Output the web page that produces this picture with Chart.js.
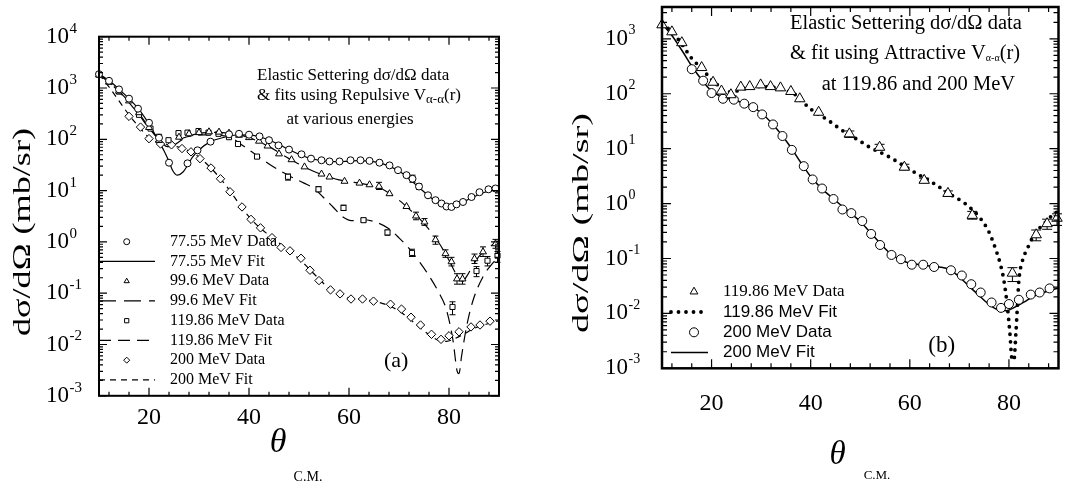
<!DOCTYPE html>
<html>
<head>
<meta charset="utf-8">
<script src="https://cdn.jsdelivr.net/npm/chart.js@4.4.0/dist/chart.umd.min.js"></script>
<style>
  html, body { margin: 0; padding: 0; background: #fff; }
  #wrap { position: relative; width: 1071px; height: 483px; overflow: hidden; }
  #wrap canvas { position: absolute; top: 0; }
</style>
</head>
<body>
<div id="wrap">
  <canvas id="chartA" width="540" height="483" style="left:0"></canvas>
  <canvas id="chartB" width="531" height="483" style="left:540px"></canvas>
</div>
<script>
const SERIF = '"Liberation Serif", "Times New Roman", serif';
const SANS = '"Liberation Sans", Arial, sans-serif';

// tick values
const xTickVals = [20, 40, 60, 80];
const yTickValsA = [1e-3, 1e-2, 1e-1, 1, 10, 100, 1000, 10000];
const yTickValsB = [1e-3, 1e-2, 1e-1, 1, 10, 100, 1000];

// measured data, shared by both panels
const ang119 = [10, 12, 14, 18, 20.3, 22, 23.9, 25.9, 27.7, 29.9, 31.9, 33.9, 36, 37.8, 41.6, 47.8, 53.9, 58.9, 62.9, 67.7, 72.6, 80.7, 85.5, 87.7, 89.7];
const val119 = [1800, 1340, 850, 300, 162, 112, 96, 132, 135, 145, 135, 128, 110, 81, 46, 18.6, 10.6, 4.6, 2.65, 1.53, 0.61, 0.054, 0.27, 0.43, 0.54];
const err119 = [[47.8, 16, 21], [53.9, 9.5, 12], [58.9, 4.1, 5.2], [62.9, 2.45, 2.9], [67.7, 1.35, 1.7], [72.6, 0.52, 0.72], [80.7, 0.038, 0.068], [85.5, 0.21, 0.33], [87.7, 0.34, 0.52], [89.7, 0.4, 0.65]];

const ang200 = [16, 18.3, 20, 22.3, 24.5, 26.6, 28.4, 30.2, 32.4, 34.3, 36.2, 38.6, 40.4, 42.3, 44.6, 46.4, 48.2, 50.4, 52.2, 54, 56.3, 58.2, 60.4, 62.7, 64.9, 68.3, 70.5, 72.4, 74.3, 76.5, 78.4, 80, 82, 84.4, 86.2, 88.2];
const val200 = [280, 173, 103, 81, 78, 66, 57, 42, 27.6, 17, 9.5, 4.8, 2.75, 1.88, 1.21, 0.78, 0.67, 0.48, 0.28, 0.176, 0.116, 0.097, 0.077, 0.077, 0.07, 0.061, 0.049, 0.034, 0.024, 0.0158, 0.0126, 0.0148, 0.0177, 0.022, 0.024, 0.0285];

// panel (a) data
const ang77 = [10, 12, 14, 16, 17.8, 20, 22, 24, 27.7, 29.7, 32.3, 36, 38, 40, 42.1, 44, 45.9, 48, 50.5, 52.4, 54.5, 56.1, 58.1, 60.3, 62.3, 64.1, 66.1, 68.1, 69.8, 71.5, 72.7, 74, 75.8, 77.3, 78.5, 79.5, 80.5, 81.5, 82.8, 84.5, 86.1, 87.9, 89.3];
const val77 = [1860, 1380, 940, 620, 395, 210, 107, 35, 34, 61, 90, 125, 128, 123, 114, 96, 76, 63, 51, 42, 39, 37, 37, 39, 39, 38, 35, 31, 25, 20, 17, 12, 8.1, 6.5, 5.6, 4.9, 4.8, 5.4, 6.0, 7.5, 9.3, 10.6, 11];
const err77 = [[72.7, 14.5, 20], [74, 10.5, 13.5]];

const ang99 = [10, 12, 14, 16, 18, 20, 22, 26, 28, 30, 32, 34, 36, 38, 40, 42, 43.7, 46, 48.5, 51.1, 54.5, 56.1, 59.1, 62.1, 64.1, 66, 68.1, 71.5, 73.4, 75.1, 77.3, 79.3, 80.5, 81.6, 82.7, 85.1, 86.8, 89.3];
const val99 = [1800, 1300, 870, 560, 330, 170, 95, 110, 128, 135, 140, 138, 132, 120, 108, 92, 74, 52, 40, 29, 21, 18.4, 15.2, 14, 13, 12.1, 8.7, 4.9, 3.2, 2.44, 1.1, 0.59, 0.41, 0.19, 0.19, 0.47, 0.64, 0.92];
const err99 = [[66, 10.5, 14.5], [73.4, 2.7, 3.8], [75.1, 2.1, 2.85], [77.3, 0.9, 1.3], [79.3, 0.5, 0.7], [80.5, 0.34, 0.5], [81.6, 0.15, 0.24], [82.7, 0.15, 0.24], [85.1, 0.38, 0.58], [86.8, 0.52, 0.8], [89.3, 0.75, 1.12]];

// panel (a) fits, repulsive potential
const fitAng77a = [10, 12, 14, 16, 18, 20, 21, 22, 23, 24, 24.7, 25.7, 26.8, 27.7, 28.7, 30, 32.3, 34.7, 37, 40, 42, 44, 46, 48, 50, 52, 54, 56, 58, 60, 62, 64, 66, 68, 70, 72, 74, 76, 78, 79.5, 81, 83, 85, 87, 89, 90];
const fitVal77a = [1900, 1400, 950, 620, 380, 200, 135, 90, 60, 37, 25, 20, 23, 31, 45, 62, 90, 107, 120, 122, 113, 97, 79, 63, 51, 43, 39, 37, 36.5, 37.5, 38.5, 37.5, 35, 30, 24, 17, 11.5, 7.8, 5.6, 4.9, 5.0, 6.1, 7.6, 9.2, 10.6, 11.2];

const fitAng99a = [10, 12, 14, 16, 18, 20, 22, 23, 24, 25, 26, 28, 30, 32, 34, 36, 38, 40, 42, 44, 46, 48, 50, 52, 54, 56, 58, 60, 62, 64, 66, 68, 70, 72, 74, 76, 78, 80, 81, 82, 82.7, 83.5, 84.5, 86, 88, 90];
const fitVal99a = [1850, 1300, 860, 540, 320, 170, 98, 78, 72, 76, 90, 115, 130, 136, 136, 131, 122, 108, 90, 72, 55, 42, 33, 26, 21.5, 18.5, 16.2, 15, 14, 13, 11.5, 9, 6.5, 4.4, 2.9, 1.75, 0.95, 0.44, 0.28, 0.19, 0.17, 0.21, 0.31, 0.52, 0.78, 1.08];

const fitAng119a = [10, 12, 14, 16, 18, 20, 22, 23.7, 25, 27, 29, 31, 33, 35, 36.5, 38, 40, 42, 44, 46, 48, 51, 53, 54.8, 56.8, 58.8, 60.5, 62.8, 65.5, 68, 70, 72, 74, 75.5, 77.8, 79.5, 80.8, 81.6, 82, 82.5, 83.5, 84.8, 86.8, 88.5, 90];
const fitVal119a = [1800, 1300, 850, 520, 300, 165, 100, 72, 85, 107, 118, 122, 122, 117, 108, 85, 62, 45, 33, 25, 19.5, 14, 11, 7.5, 4.8, 3.05, 2.6, 2.7, 2.4, 1.8, 1.2, 0.75, 0.42, 0.26, 0.11, 0.047, 0.012, 0.0031, 0.0027, 0.0058, 0.022, 0.072, 0.21, 0.36, 0.52];

const fitAng200a = [10, 12, 14, 16, 18, 20, 22, 24, 26, 28, 30, 32, 34, 36, 38, 40, 42, 44, 46, 48, 50, 52, 54, 56, 58, 60, 62, 64, 66, 68, 70, 72, 74, 76, 78, 79.5, 81, 83, 85, 87, 89, 90];
const fitVal200a = [1850, 1050, 560, 300, 175, 108, 86, 78, 70, 59, 45, 30, 18.5, 10.5, 5.6, 3.1, 1.95, 1.35, 0.95, 0.68, 0.47, 0.3, 0.19, 0.125, 0.095, 0.082, 0.077, 0.073, 0.066, 0.057, 0.045, 0.032, 0.022, 0.0155, 0.012, 0.0115, 0.0128, 0.016, 0.0205, 0.024, 0.0275, 0.029];

// panel (b) fits, attractive potential
const fitAng119b = [10, 12, 14, 16, 18, 20, 21, 23, 25, 27, 29, 31, 33, 35, 37, 37.8, 40.1, 43.5, 46.2, 49.8, 52, 55.2, 57.9, 61.2, 64.6, 68, 71.3, 74.3, 76, 77.3, 78.3, 79, 79.7, 80.2, 80.6, 81, 81.4, 81.7, 82, 82.7, 83.7, 85.1, 87.4, 89, 90];
const fitVal119b = [1850, 1350, 800, 440, 290, 180, 150, 108, 112, 128, 135, 134, 128, 115, 95, 80, 52, 33, 22, 14, 10.5, 7.6, 5.5, 3.6, 2.4, 1.5, 0.98, 0.53, 0.3, 0.15, 0.077, 0.039, 0.013, 0.0043, 0.0015, 0.0014, 0.0043, 0.013, 0.039, 0.089, 0.15, 0.27, 0.46, 0.64, 0.72];

const fitAng200b = [10, 12, 14, 16, 18, 20, 22, 24, 26, 28, 30, 32, 34, 36, 38, 40, 42, 44, 46, 48, 50, 52, 54, 56, 58, 60, 62, 64, 66, 68, 70, 72, 74, 76, 78, 79.5, 81, 83, 85, 87, 89, 90];
const fitVal200b = [1900, 1150, 620, 320, 180, 112, 88, 79, 70, 59, 45, 30, 18.5, 10.5, 5.6, 3.1, 1.95, 1.35, 0.95, 0.68, 0.47, 0.3, 0.19, 0.125, 0.095, 0.082, 0.077, 0.073, 0.07, 0.063, 0.046, 0.031, 0.021, 0.0145, 0.0115, 0.0112, 0.0127, 0.016, 0.0205, 0.024, 0.0275, 0.029];

function pts(angles, values) {
    return angles.map((t, i) => ({ x: t, y: values[i] }));
}

function dataSet(label, angles, values, style, radius, errs) {
    return {
        label: label, data: pts(angles, values), showLine: false, order: 0,
        pointStyle: style, pointRadius: radius, pointBorderWidth: 1,
        pointBorderColor: '#000', pointBackgroundColor: '#fff', errs: errs || null, clip: false
    };
}

function fitSet(label, angles, values, dash, width, cap) {
    return {
        label: label, data: pts(angles, values), order: 1, pointRadius: 0,
        borderColor: '#000', borderWidth: width, borderDash: dash, borderCapStyle: cap || 'butt',
        cubicInterpolationMode: 'monotone', clip: false, fill: false
    };
}

// draws text pieces in a row (for subscripts), optionally stretched to a target width
function drawRich(ctx, segs, x, y, family, targetW) {
    let total = 0;
    segs.forEach(s => {
        ctx.font = (s.style || '') + ' ' + s.size + 'px ' + family;
        s.w = ctx.measureText(s.t).width;
        total += s.w;
    });
    const sx = targetW ? targetW / total : 1;
    ctx.save();
    ctx.translate(x, y);
    ctx.scale(sx, 1);
    let cx = 0;
    segs.forEach(s => {
        ctx.font = (s.style || '') + ' ' + s.size + 'px ' + family;
        ctx.fillText(s.t, cx, s.dy || 0);
        cx += s.w;
    });
    ctx.restore();
}

// frame, inward ticks and 10^n labels
const axisPlugin = {
    id: 'axisFrame',
    afterDraw(chart, args, o) {
        const { ctx, chartArea: a } = chart;
        const xs = chart.scales.x, ys = chart.scales.y;
        ctx.save();
        ctx.strokeStyle = '#000';
        ctx.lineWidth = 1.2;
        ctx.beginPath();
        for (let v = 12; v < 90; v += 4) {
            const px = xs.getPixelForValue(v);
            const len = xTickVals.includes(v) ? o.major : o.minor;
            ctx.moveTo(px, a.bottom); ctx.lineTo(px, a.bottom - len);
            ctx.moveTo(px, a.top); ctx.lineTo(px, a.top + len);
        }
        const e0 = Math.floor(Math.log10(ys.min)), e1 = Math.ceil(Math.log10(ys.max));
        for (let e = e0; e <= e1; e++) {
            for (let m = 1; m < 10; m++) {
                const v = m * Math.pow(10, e);
                if (v < ys.min * 0.999 || v > ys.max * 1.001) continue;
                const py = ys.getPixelForValue(v);
                const len = m === 1 ? o.major : o.minor;
                ctx.moveTo(a.left, py); ctx.lineTo(a.left + len, py);
                ctx.moveTo(a.right, py); ctx.lineTo(a.right - len, py);
            }
        }
        ctx.stroke();
        ctx.lineWidth = o.frame;
        ctx.strokeRect(a.left, a.top, a.right - a.left, a.bottom - a.top);

        ctx.fillStyle = '#000';
        ctx.textBaseline = 'middle';
        ctx.textAlign = 'left';
        ys.ticks.forEach(t => {
            const py = ys.getPixelForValue(t.value);
            const ex = Math.round(Math.log10(t.value));
            ctx.font = o.labelSize + 'px ' + SERIF;
            ctx.fillText('10', o.labelX, py);
            const w = ctx.measureText('10').width;
            ctx.font = o.expSize + 'px ' + SERIF;
            ctx.fillText(String(ex), o.labelX + w + 0.5, py - o.expRise);
        });
        ctx.restore();
    }
};

const errPlugin = {
    id: 'errBars',
    beforeDatasetsDraw(chart, args, o) {
        const ctx = chart.ctx, xs = chart.scales.x, ys = chart.scales.y;
        ctx.save();
        ctx.strokeStyle = '#000';
        ctx.lineWidth = 1;
        chart.data.datasets.forEach(ds => {
            if (!ds.errs) return;
            ds.errs.forEach(([t, lo, hi]) => {
                const px = xs.getPixelForValue(t);
                const p1 = ys.getPixelForValue(lo), p2 = ys.getPixelForValue(hi);
                ctx.beginPath();
                ctx.moveTo(px, p1); ctx.lineTo(px, p2);
                ctx.moveTo(px - o.cap, p1); ctx.lineTo(px + o.cap, p1);
                ctx.moveTo(px - o.cap, p2); ctx.lineTo(px + o.cap, p2);
                ctx.stroke();
            });
        });
        ctx.restore();
    }
};

const legendPlugin = {
    id: 'panelLegend',
    afterDatasetsDraw(chart, args, o) {
        const ctx = chart.ctx;
        o.rows.forEach((r, i) => {
            const ds = chart.data.datasets.find(d => d.label === r.label);
            const y = o.y0 + i * o.step;
            ctx.save();
            ctx.strokeStyle = '#000';
            ctx.fillStyle = '#fff';
            if (ds.showLine === false) {
                ctx.lineWidth = 1;
                Chart.helpers.drawPoint(ctx, { pointStyle: ds.pointStyle, radius: o.markR || ds.pointRadius, borderWidth: 1, rotation: 0 }, o.markX, y);
            } else {
                ctx.lineWidth = ds.borderWidth;
                ctx.lineCap = ds.borderCapStyle;
                ctx.setLineDash(ds.borderDash);
                ctx.beginPath();
                ctx.moveTo(o.lineX0, y);
                ctx.lineTo(o.lineX1, y);
                ctx.stroke();
            }
            ctx.setLineDash([]);
            ctx.fillStyle = '#000';
            ctx.textBaseline = 'middle';
            ctx.textAlign = 'left';
            ctx.font = r.size + 'px ' + (r.sans ? SANS : SERIF);
            ctx.fillText(r.label, o.textX, y);
            ctx.restore();
        });
    }
};

const textPlugin = {
    id: 'panelText',
    afterDraw(chart, args, o) {
        const ctx = chart.ctx;
        ctx.save();
        ctx.fillStyle = '#000';
        ctx.textBaseline = 'middle';
        ctx.textAlign = 'left';
        o.lines.forEach(l => drawRich(ctx, l.segs, l.x, l.y, SERIF, l.w));
        // y title, rotated
        ctx.save();
        ctx.translate(o.yTitle.x, o.yTitle.y);
        ctx.rotate(-Math.PI / 2);
        ctx.font = o.yTitle.size + 'px ' + SERIF;
        const tw = ctx.measureText(o.yTitle.text).width;
        ctx.scale(o.yTitle.len / tw, 1);
        ctx.textAlign = 'center';
        ctx.fillText(o.yTitle.text, 0, 0);
        ctx.restore();
        // x title: theta with C.M. far below
        ctx.textAlign = 'center';
        ctx.font = 'italic ' + o.xTitle.size + 'px ' + SERIF;
        ctx.fillText('\u03b8', o.xTitle.x, o.xTitle.y);
        ctx.font = o.xTitle.subSize + 'px ' + SERIF;
        ctx.fillText('C.M.', o.xTitle.sx, o.xTitle.sy);
        ctx.restore();
    }
};

Chart.defaults.font.family = SERIF;
Chart.defaults.color = '#000';

function baseOptions(pad, yWidth, xHeight, yMax, yTicks, tickPad) {
    return {
        responsive: false,
        animation: false,
        devicePixelRatio: 1,
        layout: { padding: pad },
        scales: {
            x: {
                type: 'linear', min: 10, max: 90,
                grid: { display: false, drawTicks: false },
                border: { display: false },
                afterBuildTicks: s => { s.ticks = xTickVals.map(v => ({ value: v })); },
                afterFit: s => { s.height = xHeight; },
                ticks: { font: { family: SERIF, size: 24 }, color: '#000', padding: tickPad, maxRotation: 0, autoSkip: false }
            },
            y: {
                type: 'logarithmic', min: 1e-3, max: yMax,
                grid: { display: false, drawTicks: false },
                border: { display: false },
                afterBuildTicks: s => { s.ticks = yTicks.map(v => ({ value: v })); },
                afterFit: s => { s.width = yWidth; },
                ticks: { display: false }
            }
        }
    };
}

// ---- panel (a)
const optsA = baseOptions({ top: 36.7, right: 41, left: 0, bottom: 0 }, 99, 87.2, 1e4, yTickValsA, 7.4);
optsA.plugins = {
    legend: { display: false },
    tooltip: { enabled: false },
    axisFrame: { frame: 2, major: 8, minor: 4, labelX: 46, labelSize: 23, expSize: 15, expRise: 8 },
    errBars: { cap: 3 },
    panelLegend: {
        y0: 241.7, step: 19.75, markX: 126.7, markR: 3, lineX0: 99, lineX1: 155, textX: 170,
        rows: [
            { label: '77.55 MeV Data', size: 16 }, { label: '77.55 MeV Fit', size: 16 },
            { label: '99.6 MeV Data', size: 16 }, { label: '99.6 MeV Fit', size: 16 },
            { label: '119.86 MeV Data', size: 16 }, { label: '119.86 MeV Fit', size: 16 },
            { label: '200 MeV Data', size: 16 }, { label: '200 MeV Fit', size: 16 }
        ]
    },
    panelText: {
        lines: [
            { x: 257, y: 76, segs: [{ t: 'Elastic Settering d\u03c3/d\u03a9 data', size: 17 }] },
            { x: 257, y: 96, segs: [{ t: '& fits using Repulsive V', size: 17 }, { t: '\u03b1-\u03b1', size: 13, dy: 4 }, { t: '(r)', size: 17 }] },
            { x: 286.5, y: 119.3, segs: [{ t: 'at various energies', size: 17 }] },
            { x: 384, y: 361.7, segs: [{ t: '(a)', size: 22 }] }
        ],
        yTitle: { text: 'd\u03c3/d\u03a9 (mb/sr)', x: 23, y: 232, size: 26, len: 208 },
        xTitle: { x: 278, y: 443, size: 34, sx: 308, sy: 477, subSize: 14 }
    }
};

new Chart(document.getElementById('chartA'), {
    type: 'line',
    data: {
        datasets: [
            dataSet('77.55 MeV Data', ang77, val77, 'circle', 3.5, err77),
            fitSet('77.55 MeV Fit', fitAng77a, fitVal77a, [], 1.2),
            dataSet('99.6 MeV Data', ang99, val99, 'triangle', 4, err99),
            fitSet('99.6 MeV Fit', fitAng99a, fitVal99a, [17, 8], 1.2),
            dataSet('119.86 MeV Data', ang119, val119, 'rect', 3.6, err119),
            fitSet('119.86 MeV Fit', fitAng119a, fitVal119a, [12, 7], 1.2),
            dataSet('200 MeV Data', ang200, val200, 'rectRot', 4.2, null),
            fitSet('200 MeV Fit', fitAng200a, fitVal200a, [6, 5], 1.2)
        ]
    },
    options: optsA,
    plugins: [errPlugin, axisPlugin, legendPlugin, textPlugin]
});

// ---- panel (b)
const optsB = baseOptions({ top: 2, right: 12.5, left: 0, bottom: 0 }, 122, 114.7, 3800, yTickValsB, 21.5);
optsB.plugins = {
    legend: { display: false },
    tooltip: { enabled: false },
    axisFrame: { frame: 2.5, major: 9, minor: 5, labelX: 605, labelSize: 23, expSize: 14, expRise: 8.5 },
    errBars: { cap: 5 },
    panelLegend: {
        y0: 291.7, step: 20.3, markX: 694, markR: 4.5, lineX0: 671, lineX1: 708, textX: 723,
        rows: [
            { label: '119.86 MeV Data', size: 17 }, { label: '119.86 MeV Fit', size: 17, sans: true },
            { label: '200 MeV Data', size: 17, sans: true }, { label: '200 MeV Fit', size: 17, sans: true }
        ]
    },
    panelText: {
        lines: [
            { x: 250, y: 23.3, segs: [{ t: 'Elastic Settering d\u03c3/d\u03a9 data', size: 20.5 }] },
            { x: 250, y: 53.3, segs: [{ t: '& fit using Attractive V', size: 20.5 }, { t: '\u03b1-\u03b1', size: 10, dy: 5 }, { t: '(r)', size: 20.5 }] },
            { x: 281.7, y: 85, segs: [{ t: 'at 119.86 and 200 MeV', size: 20.5 }] },
            { x: 388.3, y: 346, segs: [{ t: '(b)', size: 23 }] }
        ],
        yTitle: { text: 'd\u03c3/d\u03a9 (mb/sr)', x: 41.5, y: 223, size: 24, len: 220 },
        xTitle: { x: 297.5, y: 455, size: 33, sx: 337, sy: 476, subSize: 13 }
    }
};
// panel (b) axis labels sit in the canvas that starts at 540
optsB.plugins.axisFrame.labelX = 65;
optsB.plugins.panelLegend.markX = 154;
optsB.plugins.panelLegend.lineX0 = 131;
optsB.plugins.panelLegend.lineX1 = 168;
optsB.plugins.panelLegend.textX = 183;

new Chart(document.getElementById('chartB'), {
    type: 'line',
    data: {
        datasets: [
            dataSet('119.86 MeV Data', ang119, val119, 'triangle', 6, err119),
            fitSet('119.86 MeV Fit', fitAng119b, fitVal119b, [0, 7.5], 3.8, 'round'),
            dataSet('200 MeV Data', ang200, val200, 'circle', 4.5, null),
            fitSet('200 MeV Fit', fitAng200b, fitVal200b, [], 1.5)
        ]
    },
    options: optsB,
    plugins: [errPlugin, axisPlugin, legendPlugin, textPlugin]
});
</script>
</body>
</html>
